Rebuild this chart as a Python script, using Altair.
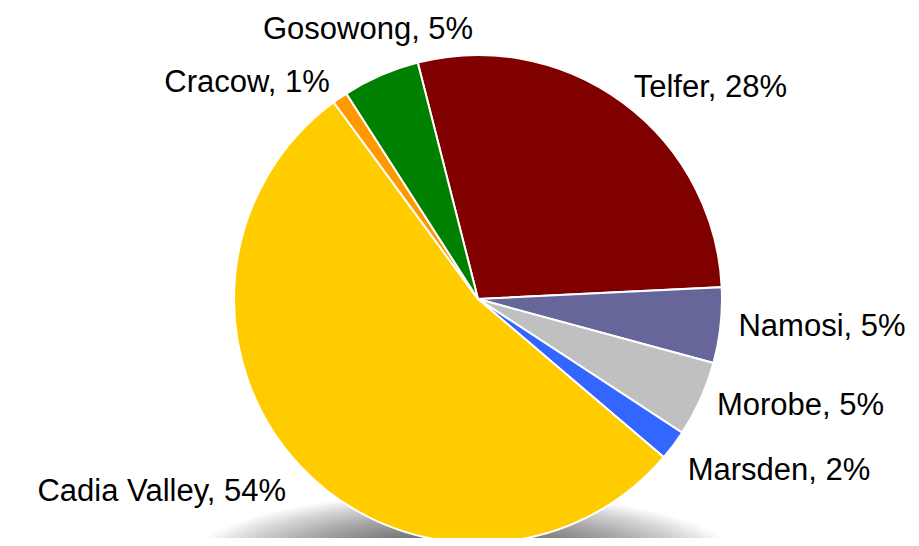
import math
import altair as alt
import pandas as pd

# ---- data ----
mines = ["Telfer", "Namosi", "Morobe", "Marsden", "Cadia Valley", "Cracow", "Gosowong"]
shares = [28.2, 5.0, 5.0, 2.0, 53.7, 1.0, 5.1]
colors = ["#800000", "#666699", "#C0C0C0", "#3366FF", "#FFCC00", "#FF9900", "#008000"]

# ---- layout / style ----
START_DEG = -14.3          # angle where the first slice (Telfer) begins, clockwise from top
CX, CY = 470, 291          # pie centre in chart coordinates
R = 244                    # pie radius
LABEL_R = 262
FONT = "Liberation Sans"
FS = 31

total = sum(shares)
start_rad = math.radians(START_DEG) + 2 * math.pi
theta_scale = alt.Scale(domain=[0, total], range=[start_rad, start_rad + 2 * math.pi])

rows = []
cum = 0.0
for m, v in zip(mines, shares):
    mid = cum + v / 2
    ang = math.radians(START_DEG + mid / total * 360)
    s, c = math.sin(ang), math.cos(ang)
    if abs(s) <= 0.45:
        side = "top"
    else:
        side = ("left" if s > 0 else "right") + ("_low" if c < -0.5 else "")
    rows.append({"mine": m, "value": v, "start": cum, "end": cum + v, "mid": mid,
                 "label": f"{m}, {round(v)}%", "side": side})
    cum += v
df = pd.DataFrame(rows)

base = alt.Chart(df)

# soft drop shadow under the pie: stacked translucent ellipses (decoration only)
shadow_df = pd.DataFrame({"s": [(2 * hw) ** 2 for hw in range(270, 90, -6)]})
shadow = alt.Chart(shadow_df).mark_point(
    shape="M-1,0A1,0.24 0 1,0 1,0A1,0.24 0 1,0 -1,0Z",
    filled=True, color="#000000", opacity=0.022, strokeWidth=0,
).encode(
    size=alt.Size("s:Q", scale=None, legend=None),
    x=alt.value(CX - 14),
    y=alt.value(CY + 259),
)

pie = base.mark_arc(outerRadius=R, stroke="white", strokeWidth=2).encode(
    theta=alt.Theta("start:Q", scale=theta_scale, stack=None),
    theta2="end:Q",
    color=alt.Color("mine:N", scale=alt.Scale(domain=mines, range=colors), legend=None),
    x=alt.value(CX),
    y=alt.value(CY),
)

def labels(side, align, baseline, radius):
    return base.transform_filter(alt.datum.side == side).mark_text(
        radius=radius, align=align, baseline=baseline,
        font=FONT, fontSize=FS, color="#000000",
    ).encode(
        theta=alt.Theta("mid:Q", scale=theta_scale, stack=None),
        text="label:N",
        x=alt.value(CX),
        y=alt.value(CY),
    )

chart = alt.layer(
    shadow,
    pie,
    labels("left", "left", "middle", LABEL_R),
    labels("left_low", "left", "top", LABEL_R),
    labels("right", "right", "middle", LABEL_R),
    labels("right_low", "right", "top", LABEL_R),
    labels("top", "center", "bottom", LABEL_R + 14),
).properties(
    width=903, height=530, padding=0, autosize="none", background="white"
).configure_view(stroke=None)

chart.save("out.html", embed_options={"renderer": "svg", "actions": False})
